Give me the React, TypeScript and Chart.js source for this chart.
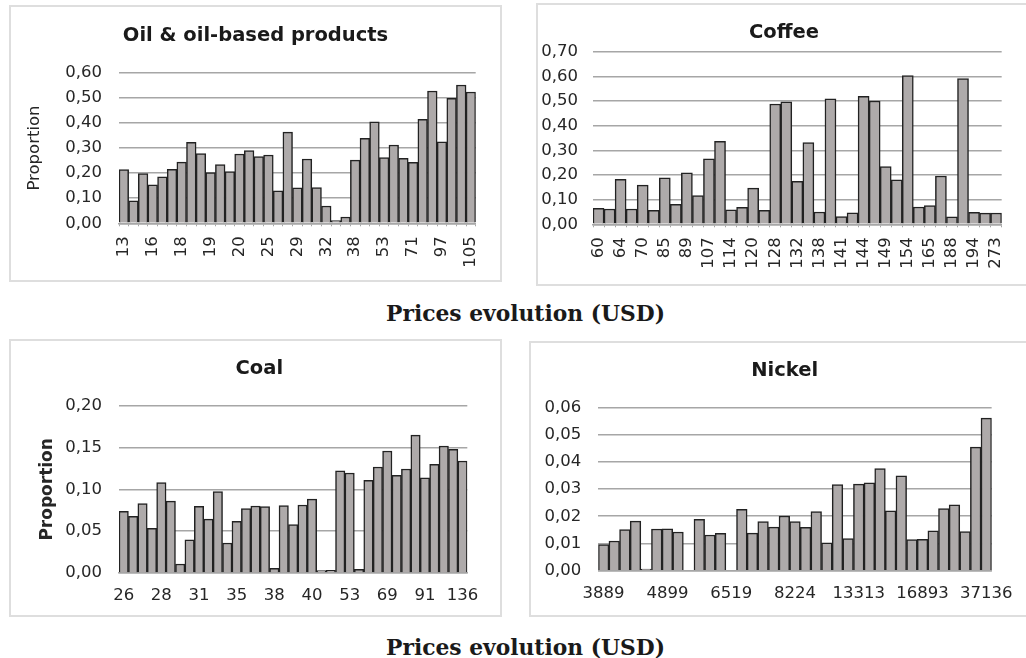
import React, { useEffect, useRef } from 'react';
import { Chart, registerables } from 'chart.js';

Chart.register(...registerables);

// ---------- DATA ----------
const oilTicks = ['13', '16', '18', '19', '20', '25', '29', '32', '38', '53', '71', '97', '105'];
const oilValues = [
  0.214, 0.09, 0.198, 0.153, 0.185, 0.215, 0.244, 0.323, 0.278, 0.202, 0.234, 0.206, 0.276,
  0.29, 0.266, 0.272, 0.129, 0.363, 0.141, 0.256, 0.142, 0.069, 0.011, 0.025, 0.252, 0.339,
  0.404, 0.262, 0.312, 0.259, 0.243, 0.414, 0.527, 0.325, 0.498, 0.551, 0.523,
];

const coffeeTicks = ['60', '64', '70', '85', '89', '107', '114', '120', '128', '132', '138', '141', '144', '149', '154', '165', '188', '194', '273'];
const coffeeValues = [
  0.065, 0.062, 0.182, 0.062, 0.159, 0.057, 0.188, 0.081, 0.209, 0.116, 0.266, 0.336, 0.059,
  0.069, 0.147, 0.057, 0.488, 0.497, 0.174, 0.331, 0.05, 0.509, 0.031, 0.047, 0.519, 0.5,
  0.234, 0.18, 0.603, 0.07, 0.076, 0.196, 0.03, 0.591, 0.049, 0.045, 0.046,
];

const coalTicks = ['26', '28', '31', '35', '38', '40', '53', '69', '91', '136'];
const coalValues = [
  0.0737, 0.0677, 0.0829, 0.0534, 0.108, 0.086, 0.0108, 0.0398, 0.0797, 0.0645, 0.0972, 0.0359,
  0.0618, 0.0769, 0.0801, 0.0793, 0.0056, 0.0805, 0.0578, 0.0813, 0.0884, 0.0028, 0.0032,
  0.122, 0.1195, 0.0044, 0.1108, 0.1267, 0.1458, 0.1167, 0.1243, 0.1649, 0.1139, 0.1299,
  0.1518, 0.1478, 0.1339,
];

const nickelTicks = ['3889', '4899', '6519', '8224', '13313', '16893', '37136'];
const nickelValues = [
  0.0096, 0.0109, 0.0151, 0.0182, 0.0006, 0.0153, 0.0154, 0.0142, 0, 0.0189, 0.0131, 0.0137,
  0, 0.0225, 0.0138, 0.018, 0.016, 0.0201, 0.018, 0.0159, 0.0217, 0.0102, 0.0316, 0.0118,
  0.0318, 0.0323, 0.0375, 0.022, 0.0348, 0.0114, 0.0115, 0.0146, 0.0228, 0.0242, 0.0144,
  0.0454, 0.056,
];

// ---------- STYLE ----------
const FILL = '#aeaaaa';
const EDGE = '#222222';
const GRID = '#a6a6a6';
const TEXT = '#262626';
const SANS = '"DejaVu Sans", Verdana, sans-serif';

function buildLabels(ticks: string[], step: number, n: number): string[] {
  const out: string[] = [];
  for (let i = 0; i < n; i++) out.push(i % step === 0 ? ticks[i / step] ?? '' : '');
  return out;
}

type Spec = {
  values: number[];
  ticks: string[];
  step: number;
  max: number;
  stepSize: number;
  left: number;
  top: number;
  w: number;
  h: number;
  padL: number;
  padR: number;
  padT: number;
  yWidth: number;
  xHeight: number;
  yPad: number;
  xPad: number;
  rotation: number;
  tickMarks: boolean;
  yTitle?: { text: string; bold: boolean; size: number };
};

function BarPanel({ spec }: { spec: Spec }) {
  const ref = useRef<HTMLCanvasElement>(null);
  useEffect(() => {
    const labels = buildLabels(spec.ticks, spec.step, spec.values.length);
    const chart = new Chart(ref.current as HTMLCanvasElement, {
      type: 'bar',
      data: {
        labels,
        datasets: [
          {
            data: spec.values,
            backgroundColor: FILL,
            borderColor: EDGE,
            borderWidth: 1.5,
            borderSkipped: 'start',
            barPercentage: 1,
            categoryPercentage: 1,
          },
        ],
      },
      options: {
        responsive: false,
        maintainAspectRatio: false,
        animation: false,
        layout: {
          autoPadding: false,
          padding: { left: spec.padL, right: spec.padR, top: spec.padT, bottom: 0 },
        },
        plugins: {
          legend: { display: false },
          tooltip: { enabled: false },
          title: { display: false },
        },
        scales: {
          x: {
            grid: {
              display: spec.tickMarks,
              drawOnChartArea: false,
              drawTicks: spec.tickMarks,
              tickLength: 3,
              color: GRID,
              offset: true,
            },
            border: { display: true, color: GRID, width: 1.5 },
            ticks: {
              autoSkip: false,
              maxRotation: spec.rotation,
              minRotation: spec.rotation,
              padding: spec.xPad,
              color: TEXT,
              font: { family: SANS, size: 16.5 },
            },
            afterFit: (s: any) => {
              s.height = spec.xHeight;
            },
          },
          y: {
            min: 0,
            max: spec.max,
            grid: { color: GRID, lineWidth: 1.5, drawTicks: false },
            border: { display: false },
            ticks: {
              stepSize: spec.stepSize,
              padding: spec.yPad,
              color: TEXT,
              font: { family: SANS, size: 16.5 },
              callback: (v: any) => Number(v).toFixed(2).replace('.', ','),
            },
            title: spec.yTitle
              ? {
                  display: true,
                  text: spec.yTitle.text,
                  color: TEXT,
                  padding: 0,
                  font: { family: SANS, size: spec.yTitle.size, weight: spec.yTitle.bold ? 'bold' : 'normal' },
                }
              : { display: false },
            afterFit: (s: any) => {
              s.width = spec.yWidth;
            },
          },
        },
      },
    } as any);
    return () => chart.destroy();
  }, [spec]);
  return (
    <canvas
      ref={ref}
      width={spec.w}
      height={spec.h}
      style={{ position: 'absolute', left: spec.left, top: spec.top, width: spec.w, height: spec.h }}
    />
  );
}

const oilSpec: Spec = {
  values: oilValues, ticks: oilTicks, step: 3, max: 0.6, stepSize: 0.1,
  left: 10, top: 6, w: 491, h: 275,
  padL: 15.1, padR: 23, padT: 66.7, yWidth: 93.9, xHeight: 57.7,
  yPad: 17, xPad: 10, rotation: 90, tickMarks: true,
  yTitle: { text: 'Proportion', bold: false, size: 16.5 },
};
const coffeeSpec: Spec = {
  values: coffeeValues, ticks: coffeeTicks, step: 2, max: 0.7, stepSize: 0.1,
  left: 537, top: 4, w: 489, h: 281,
  padL: 0, padR: 4, padT: 47.7, yWidth: 56, xHeight: 60.7,
  yPad: 15, xPad: 10, rotation: 90, tickMarks: true,
};
const coalSpec: Spec = {
  values: coalValues, ticks: coalTicks, step: 4, max: 0.2, stepSize: 0.05,
  left: 10, top: 340, w: 491, h: 276,
  padL: 27.5, padR: 33.7, padT: 65.7, yWidth: 81.5, xHeight: 43,
  yPad: 17, xPad: 13, rotation: 0, tickMarks: false,
  yTitle: { text: 'Proportion', bold: true, size: 17 },
};
const nickelSpec: Spec = {
  values: nickelValues, ticks: nickelTicks, step: 6, max: 0.06, stepSize: 0.01,
  left: 530, top: 342, w: 496, h: 274,
  padL: 0, padR: 31.3, padT: 65.3, yWidth: 68.3, xHeight: 45.3,
  yPad: 17, xPad: 13, rotation: 0, tickMarks: false,
};

const boxes = [
  { left: 9, top: 5, w: 493, h: 277 },
  { left: 536, top: 3, w: 496, h: 283 },
  { left: 9, top: 339, w: 493, h: 278 },
  { left: 529, top: 341, w: 503, h: 276 },
];

const titles = [
  { text: 'Oil & oil-based products', x: 255.5, y: 34.2 },
  { text: 'Coffee', x: 784, y: 30.6 },
  { text: 'Coal', x: 259.3, y: 367 },
  { text: 'Nickel', x: 784.7, y: 368.5 },
];

const footers = [
  { text: 'Prices evolution (USD)', x: 525.5, y: 313 },
  { text: 'Prices evolution (USD)', x: 525.5, y: 647 },
];

export default function App() {
  return (
    <div
      style={{
        position: 'fixed', left: 0, top: 0, width: 1026, height: 658,
        overflow: 'hidden', background: '#ffffff',
      }}
    >
      {boxes.map((b, i) => (
        <div
          key={'b' + i}
          style={{
            position: 'absolute', left: b.left, top: b.top, width: b.w, height: b.h,
            boxSizing: 'border-box', border: '2px solid #dedede',
          }}
        />
      ))}
      <BarPanel spec={oilSpec} />
      <BarPanel spec={coffeeSpec} />
      <BarPanel spec={coalSpec} />
      <BarPanel spec={nickelSpec} />
      {titles.map((t, i) => (
        <div
          key={'t' + i}
          style={{
            position: 'absolute', left: t.x, top: t.y, transform: 'translate(-50%, -50%)',
            fontFamily: SANS, fontWeight: 'bold', fontSize: 19.5, color: '#1a1a1a',
            whiteSpace: 'nowrap', lineHeight: 'normal',
          }}
        >
          {t.text}
        </div>
      ))}
      {footers.map((t, i) => (
        <div
          key={'f' + i}
          style={{
            position: 'absolute', left: t.x, top: t.y, transform: 'translate(-50%, -50%)',
            fontFamily: '"DejaVu Serif", serif', fontWeight: 'bold', fontSize: 21.8, color: '#1a1a1a',
            whiteSpace: 'nowrap', lineHeight: 'normal',
          }}
        >
          {t.text}
        </div>
      ))}
    </div>
  );
}
